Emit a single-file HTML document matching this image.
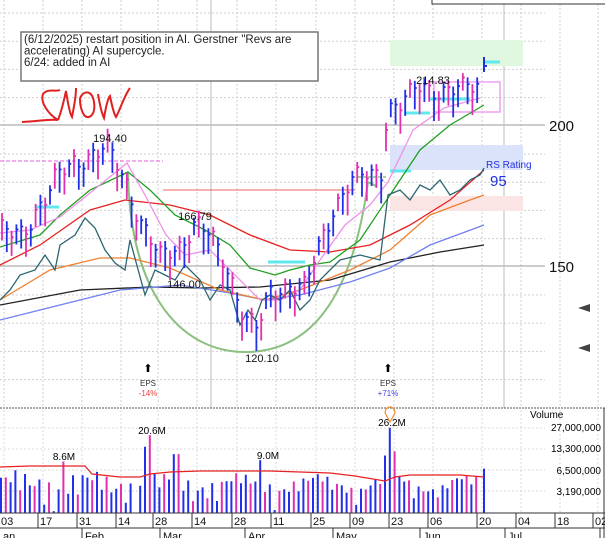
<!DOCTYPE html>
<html><head><meta charset="utf-8"><style>
html,body{margin:0;padding:0;background:#fff;}
svg{display:block;font-family:"Liberation Sans",sans-serif;}
</style></head><body>
<svg id="c" width="605" height="538" viewBox="0 0 605 538" xmlns="http://www.w3.org/2000/svg">
<rect width="605" height="538" fill="#fff"/>
<g id="grid" stroke="#cfcfcf" stroke-dasharray="2,2" stroke-width="1"></g>
<line x1="0" y1="125" x2="545" y2="125" stroke="#999"/>
<line x1="0" y1="266" x2="545" y2="266" stroke="#999"/>
<line x1="211" y1="0" x2="211" y2="408" stroke="#bbb"/>
<line x1="504" y1="0" x2="504" y2="408" stroke="#bbb"/>
<rect x="432" y="-2" width="175" height="6" fill="#fff" stroke="#333"/>
<rect x="390" y="40" width="133" height="26" fill="#e0f8e0"/>
<rect x="390" y="145" width="133" height="25" fill="#dbe3fb"/>
<rect x="390" y="196" width="133" height="15" fill="#fbe4e4"/>
<rect x="21" y="32" width="297" height="49" fill="#fff" stroke="#777" stroke-width="1.5"/>
<text x="24" y="43" font-size="11.5" fill="#222">(6/12/2025) restart position in AI. Gerstner "Revs are</text>
<text x="24" y="54.5" font-size="11.5" fill="#222">accelerating) AI supercycle.</text>
<text x="24" y="66" font-size="11.5" fill="#222">6/24: added in AI</text>
<path d="M22,122 C40,121 50,119 58,120 C48,114 40,102 43,94 C48,88 56,92 60,90 M58,120 C62,110 64,100 66,91 C68,104 70,114 72,117 C74,106 76,98 76,88 M80,98 C84,90 92,90 94,102 C96,116 88,120 84,115 C80,108 80,102 80,98 M98,94 C100,106 102,114 104,118 C106,106 108,98 110,96 C112,106 114,114 116,117 C120,110 124,96 130,88" fill="none" stroke="#e02020" stroke-width="2"/>
<line x1="0" y1="161" x2="163" y2="161" stroke="#e060e0" stroke-dasharray="4,2"/>
<line x1="163" y1="190" x2="355" y2="190" stroke="#f06060"/>
<path d="M128,172 C130,300 185,352 245,352 C310,352 352,300 368,182 L376,186" fill="none" stroke="#8cc080" stroke-width="2"/>
<line x1="358" y1="177" x2="386" y2="177" stroke="#8cc080" stroke-dasharray="3,2" stroke-width="1.5"/>
<rect x="434" y="82" width="66" height="30" fill="none" stroke="#f0a0f0" stroke-width="1.5"/>
<g stroke="#60e8f0" stroke-width="3">
<line x1="36" y1="207" x2="59" y2="207"/><line x1="268" y1="262" x2="305" y2="262"/>
<line x1="390" y1="171" x2="411" y2="171"/><line x1="404" y1="113" x2="430" y2="113"/>
<line x1="430" y1="99" x2="470" y2="99"/><line x1="485" y1="62" x2="500" y2="62"/>
</g>
<g fill="none" stroke-width="1.3">
<polyline stroke="#222" points="0,305 80,290 150,287 200,288 260,287 330,280 390,262 440,252 484,245"/>
<polyline stroke="#7080f0" points="0,320 60,305 120,290 180,285 230,293 265,300 300,295 350,282 390,268 430,245 484,225"/>
<polyline stroke="#f08030" points="0,300 50,270 100,258 130,258 170,268 220,290 265,300 300,290 350,270 390,250 430,215 470,200 484,195"/>
<polyline stroke="#e82020" points="0,265 40,245 90,210 125,200 170,205 210,215 250,235 290,250 330,252 370,245 410,225 450,200 484,170"/>
<polyline stroke="#20a020" points="0,247 40,235 60,215 90,190 128,172 150,190 175,215 205,230 230,245 250,268 275,275 290,270 310,265 330,262 360,240 390,195 420,150 450,125 484,105"/>
<polyline stroke="#f090e8" points="0,233 30,230 60,217 85,197 127,163 145,195 166,235 185,255 210,250 230,270 260,300 280,300 300,290 320,260 345,225 370,205 388,182 413,130 444,108 480,98"/>
<polyline stroke="#2c6670" points="0,300 10,290 20,275 35,270 45,255 55,270 60,245 75,235 85,218 95,228 105,250 115,263 125,270 130,240 145,295 155,270 165,275 175,280 185,265 200,280 210,300 220,285 230,290 240,325 248,310 255,320 262,300 270,295 280,300 290,290 300,310 310,300 320,280 340,260 360,255 380,260 388,195 400,190 410,200 420,185 430,190 440,180 450,195 460,190 470,180 480,175 484,168"/>
</g>
<g id="bars"></g>
<path d="M484,72V57M484,66h3" stroke="#2030e8" stroke-width="2" fill="none"/>
<text x="110" y="142" font-size="11" text-anchor="middle" fill="#111">194.40</text>
<text x="195" y="220" font-size="11" text-anchor="middle" fill="#111">166.79</text>
<text x="184" y="288" font-size="11" text-anchor="middle" fill="#111">146.00</text>
<text x="262" y="362" font-size="11" text-anchor="middle" fill="#111">120.10</text>
<text x="433" y="84" font-size="11" text-anchor="middle" fill="#111">214.83</text>
<text x="486" y="168" font-size="10" fill="#2030e0">RS Rating</text>
<text x="490" y="186" font-size="15" fill="#2030e0">95</text>
<text x="549" y="131" font-size="15" fill="#111">200</text>
<text x="549" y="272" font-size="15" fill="#111">150</text>
<polygon points="578,308 590,304 590,312" fill="#444"/>
<polygon points="578,348 590,344 590,352" fill="#444"/>
<text x="148" y="372" font-size="11" text-anchor="middle">⬆</text>
<text x="148" y="386" font-size="8" text-anchor="middle" fill="#333">EPS</text>
<text x="148" y="396" font-size="8" text-anchor="middle" fill="#f04040">-14%</text>
<text x="388" y="372" font-size="11" text-anchor="middle">⬆</text>
<text x="388" y="386" font-size="8" text-anchor="middle" fill="#333">EPS</text>
<text x="388" y="396" font-size="8" text-anchor="middle" fill="#4040f0">+71%</text>
<line x1="0" y1="408" x2="605" y2="408" stroke="#555" stroke-dasharray="2,1"/>
<line x1="604" y1="408" x2="604" y2="538" stroke="#333"/>
<g id="vgrid" stroke="#d8d8d8" stroke-dasharray="2,2"></g>
<g id="vol"></g>
<polyline fill="none" stroke="#e82020" stroke-width="1.2" points="0,467 30,466 85,466 92,474 120,477 140,477 150,474 170,472 200,471 270,471 330,473 355,476 385,481 395,477 410,475 460,475 484,477"/>
<path d="M385,413 a5,6 0 1 1 10,0 L390,422 Z" fill="none" stroke="#f09030" stroke-width="1.2"/>
<text x="64" y="460" font-size="10" text-anchor="middle">8.6M</text>
<text x="152" y="434" font-size="10" text-anchor="middle">20.6M</text>
<text x="268" y="459" font-size="10" text-anchor="middle">9.0M</text>
<text x="392" y="426" font-size="10" text-anchor="middle">26.2M</text>
<text x="530" y="418" font-size="10">Volume</text>
<text x="601" y="431" font-size="10" text-anchor="end">27,000,000</text>
<text x="601" y="452" font-size="10" text-anchor="end">13,300,000</text>
<text x="601" y="474" font-size="10" text-anchor="end">6,500,000</text>
<text x="601" y="495" font-size="10" text-anchor="end">3,190,000</text>
<line x1="0" y1="513" x2="605" y2="513" stroke="#333"/>
<line x1="0" y1="528" x2="605" y2="528" stroke="#333"/>
<g id="dates" font-size="11" fill="#111"></g>
</svg>
<script>
(function(){
var NS="http://www.w3.org/2000/svg";
function el(p,t,a,txt){var e=document.createElementNS(NS,t);for(var k in a)e.setAttribute(k,a[k]);if(txt)e.textContent=txt;document.getElementById(p).appendChild(e);return e;}
for(var y=13;y<400;y+=28.2){if(Math.abs(y-125)<3||Math.abs(y-266)<3)continue;el("grid","line",{x1:0,y1:y,x2:545,y2:y});}
var wk=[4,43,82,121,158,197,237,276,316,355,394,433,482,521,560,598];
var lb=["03","17","31","14","28","14","28","11","25","09","23","06","20","04","18","02"];
wk.forEach(function(x){el("grid","line",{x1:x,y1:0,x2:x,y2:408});el("vgrid","line",{x1:x,y1:410,x2:x,y2:513});});
for(var y2=428;y2<512;y2+=21)el("vgrid","line",{x1:0,y1:y2,x2:545,y2:y2});
wk.forEach(function(x,i){if(i>0)el("dates","line",{x1:x-5,y1:513,x2:x-5,y2:528,stroke:"#333"});el("dates","text",{x:x-3,y:525},lb[i]);});
var mx=[[0,"an"],[82,"Feb"],[160,"Mar"],[245,"Apr"],[333,"May"],[420,"Jun"],[505,"Jul"],[600,""]];
mx.forEach(function(m){if(m[0]>0)el("dates","line",{x1:m[0],y1:528,x2:m[0],y2:538,stroke:"#333"});el("dates","text",{x:m[0]+3,y:540},m[1]);});
var K=[[0,160],[20,158],[40,170],[60,180],[80,186],[107,190],[125,178],[140,165],[160,150],[180,155],[195,164],[210,158],[230,145],[245,130],[258,125],[270,138],[290,142],[305,140],[320,155],[335,170],[350,178],[375,180],[383,182],[387,205],[400,205],[420,211],[460,210],[478,212],[484,226]];
function P(x){for(var i=0;i<K.length-1;i++){if(x<=K[i+1][0]){var t=(x-K[i][0])/(K[i+1][0]-K[i][0]);return K[i][1]+t*(K[i+1][1]-K[i][1]);}}return K[K.length-1][1];}
function Y(p){return 125+(200-p)*2.82;}
var bb="",bm="";var n=0;
for(var x=2;x<=480;x+=4.8){n++;var p=P(x)+3*Math.sin(n*1.7)+2*Math.sin(n*0.6);var r=3+2.5*Math.abs(Math.sin(n*2.3));
var seg="M"+x.toFixed(1)+","+Y(p+r).toFixed(1)+"V"+Y(p-r).toFixed(1)+"M"+x.toFixed(1)+","+Y(p+r*0.5).toFixed(1)+"h2";
if(Math.sin(n*2.9+1)>0)bb+=seg;else bm+=seg;}
el("bars","path",{d:bb,stroke:"#2030e8","stroke-width":1.8,fill:"none"});
el("bars","path",{d:bm,stroke:"#e030b0","stroke-width":1.8,fill:"none"});
function VY(v){return 470-21*Math.log(v/6.5)/Math.LN2;}
var vb="",vm="";n=0;
for(var x=1;x<=484;x+=4.8){n++;var v=2.0+3.2*Math.abs(Math.sin(n*1.3))+1.0*Math.sin(n*0.4)+0.8*Math.sin(n*3.7);
if(v<1.6)v=1.6;var blue=Math.sin(n*2.1+0.5)>0;
if(Math.abs(x-152)<2.4)v=20.6;else if(Math.abs(x-147)<2.4)v=14;else if(Math.abs(x-392)<2.4)v=26.2;else if(Math.abs(x-387)<2.4)v=10.5;else if(Math.abs(x-397)<2.4)v=12;
else if(Math.abs(x-62)<2.4)v=8.6;else if(Math.abs(x-262)<2.4)v=9;else if(Math.abs(x-176)<4.8)v=11;else if(x>480){x=484;v=6.8;blue=true;}
var d="M"+x.toFixed(1)+",513V"+VY(v).toFixed(1);
if(blue)vb+=d;else vm+=d;}
el("vol","path",{d:vb,stroke:"#2030e8","stroke-width":2,fill:"none"});
el("vol","path",{d:vm,stroke:"#e030b0","stroke-width":2,fill:"none"});
})();
</script>
</body></html>
